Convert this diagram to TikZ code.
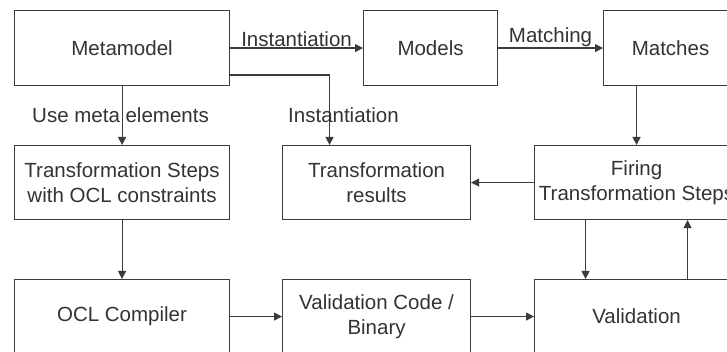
\documentclass[tikz,border=0pt]{standalone}
\usepackage{fontspec}
\setmainfont{Liberation Sans}
\usetikzlibrary{arrows.meta}
\definecolor{ink}{HTML}{333333}
\definecolor{edge}{HTML}{3C3C3C}
\begin{document}
\begin{tikzpicture}[x=1pt,y=1pt,
  box/.style={draw=edge, line width=1.1pt, anchor=north west, align=center,
    text=ink, font=\fontsize{20.5}{25}\selectfont, inner sep=0pt},
  lbl/.style={text=ink, font=\fontsize{20.5}{25}\selectfont, inner sep=1pt},
  arr/.style={draw=edge, line width=1.1pt, -{Triangle[length=8pt,width=8pt]}}]
\useasboundingbox (0,0) rectangle (727,-352);
\clip (0,0) rectangle (727,-352);
\fill[white] (0,0) rectangle (727,-352);
% top row
\node[box, minimum width=215, minimum height=75] (meta) at (14,-10) {Metamodel};
\node[box, minimum width=134, minimum height=75] (models) at (363,-10) {Models};
\node[box, minimum width=134, minimum height=75] (matches) at (603,-10) {Matches};
% middle row
\node[box, minimum width=215, minimum height=74] (steps) at (14,-145) {Transformation Steps\\with OCL constraints};
\node[box, minimum width=188, minimum height=74] (results) at (282,-145) {Transformation\\results};
\node[box, minimum width=204, minimum height=74] (firing) at (534,-145) {Firing\\Transformation Steps};
% bottom row
\node[box, minimum width=215, minimum height=74] (ocl) at (14,-279) {OCL Compiler};
\node[box, minimum width=188, minimum height=74] (vcode) at (282,-279) {Validation Code /\\Binary};
\node[box, minimum width=204, minimum height=74] (valid) at (534,-279) {Validation};
% connectors
\draw[arr] (meta.east) -- node[lbl, above] (l1) {Instantiation} (models.west);
\draw[arr] (models.east) -- node[lbl, above] (l2) {Matching} (matches.west);
\draw[arr] ([yshift=-27pt]meta.east) -| ([xshift=-47pt]results.north);
\node[lbl, anchor=west] (l3) at (287,-115) {Instantiation};
\draw[arr] (meta.south) -- (steps.north);
\node[lbl, anchor=west] (l4) at (31,-115) {Use meta elements};
\draw[arr] (firing.north |- matches.south) -- (firing.north);
\draw[arr] (firing.west) -- (results.east);
\draw[arr] (steps.south) -- (ocl.north);
\draw[arr] (ocl.east) -- (vcode.west);
\draw[arr] (vcode.east) -- (valid.west);
\draw[arr] ([xshift=-51pt]firing.south) -- ([xshift=-51pt]valid.north);
\draw[arr] ([xshift=51pt]valid.north) -- ([xshift=51pt]firing.south);
\end{tikzpicture}
\end{document}
